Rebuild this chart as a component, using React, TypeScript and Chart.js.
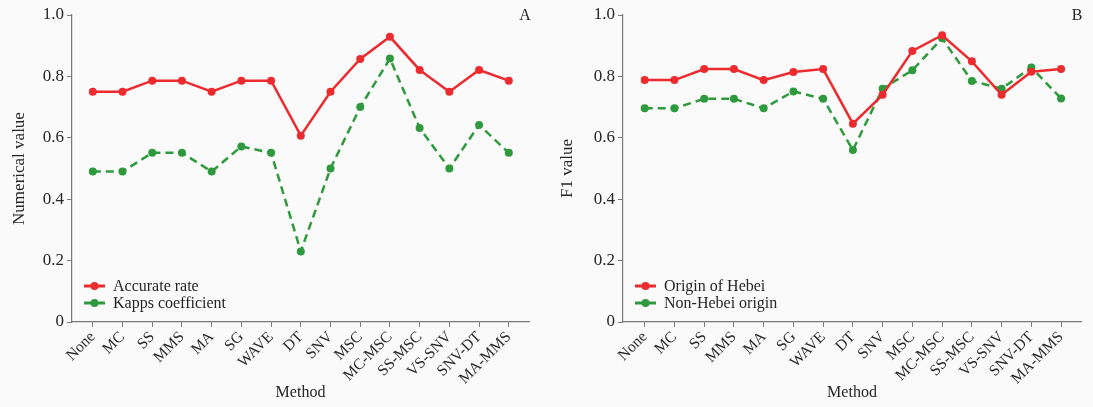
import React, { useEffect, useRef } from 'react';
import { Chart, registerables } from 'chart.js';

Chart.register(...registerables);

const methods = ['None', 'MC', 'SS', 'MMS', 'MA', 'SG', 'WAVE', 'DT', 'SNV', 'MSC', 'MC-MSC', 'SS-MSC', 'VS-SNV', 'SNV-DT', 'MA-MMS'];
const accurateRate = [0.75, 0.75, 0.786, 0.786, 0.75, 0.786, 0.786, 0.607, 0.75, 0.857, 0.929, 0.821, 0.75, 0.821, 0.786];
const kappaCoefficient = [0.49, 0.49, 0.551, 0.551, 0.49, 0.572, 0.551, 0.23, 0.5, 0.7, 0.858, 0.632, 0.5, 0.642, 0.551];
const hebeiF1 = [0.788, 0.788, 0.824, 0.824, 0.788, 0.814, 0.824, 0.646, 0.74, 0.883, 0.934, 0.849, 0.74, 0.815, 0.824];
const nonHebeiF1 = [0.696, 0.696, 0.727, 0.727, 0.696, 0.751, 0.727, 0.56, 0.76, 0.82, 0.924, 0.785, 0.76, 0.829, 0.728];
const yTickValues = [0, 0.2, 0.4, 0.6, 0.8, 1.0];

const RED = '#ec2b2f';
const GREEN = '#2f9a3d';
const AXIS = '#7a7a7a';
const TEXT = '#262626';
const FONT = "'Liberation Serif', 'Times New Roman', serif";

type Series = { label: string; values: number[]; color: string; dashed: boolean };

type PanelProps = {
  left: number;
  width: number;
  axisWidth: number;
  rightPad: number;
  xMin: number;
  xMax: number;
  yTitle: string;
  yTitlePad: number;
  letter: string;
  series: Series[];
};

function Panel(p: PanelProps) {
  const ref = useRef<HTMLCanvasElement | null>(null);
  useEffect(() => {
    if (!ref.current) return;
    const letterPlugin = {
      id: 'letterLegend',
      afterDraw(chart: any) {
        const ctx = chart.ctx;
        const a = chart.chartArea;
        ctx.save();
        ctx.fillStyle = TEXT;
        ctx.font = `16px ${FONT}`;
        ctx.textAlign = 'center';
        ctx.textBaseline = 'middle';
        ctx.fillText(p.letter, a.right - 4, a.top + 1);
        // legend
        const rows = [-36, -19];
        p.series.forEach((s, i) => {
          const y = a.bottom + rows[i];
          ctx.strokeStyle = s.color;
          ctx.lineWidth = 3;
          ctx.setLineDash([]);
          ctx.beginPath();
          ctx.moveTo(a.left + 12, y);
          ctx.lineTo(a.left + 33, y);
          ctx.stroke();
          ctx.fillStyle = s.color;
          ctx.beginPath();
          ctx.arc(a.left + 22.5, y, 4, 0, Math.PI * 2);
          ctx.fill();
          ctx.fillStyle = TEXT;
          ctx.font = `16px ${FONT}`;
          ctx.textAlign = 'left';
          ctx.textBaseline = 'middle';
          ctx.fillText(s.label, a.left + 41, y + 1);
        });
        ctx.restore();
      },
    };
    const chart = new Chart(ref.current, {
      type: 'line',
      data: {
        datasets: p.series.map((s) => ({
          label: s.label,
          data: s.values.map((v, i) => ({ x: i, y: v })),
          borderColor: s.color,
          backgroundColor: s.color,
          borderWidth: 2.5,
          borderDash: s.dashed ? [8, 5] : [],
          pointRadius: 4,
          pointHoverRadius: 4,
          pointBorderWidth: 0,
          pointBackgroundColor: s.color,
          tension: 0,
        })),
      },
      options: {
        animation: false,
        responsive: false,
        maintainAspectRatio: false,
        layout: { padding: { top: 15, right: p.rightPad, bottom: 0, left: 0 } },
        plugins: {
          legend: { display: false },
          tooltip: { enabled: false },
          title: { display: false },
        },
        scales: {
          x: {
            type: 'linear',
            min: p.xMin,
            max: p.xMax,
            afterBuildTicks: (scale: any) => {
              scale.ticks = methods.map((_, i) => ({ value: i }));
            },
            afterFit: (scale: any) => {
              scale.height = 85;
            },
            grid: { display: true, drawOnChartArea: false, drawTicks: true, tickLength: 5, color: AXIS, lineWidth: 1 },
            border: { display: true, color: AXIS, width: 1.2 },
            ticks: {
              autoSkip: false,
              maxRotation: 45,
              minRotation: 45,
              padding: 1,
              color: TEXT,
              font: { family: FONT, size: 15.5 },
              callback: (v: any) => methods[Math.round(Number(v))] ?? '',
            },
            title: {
              display: true,
              text: 'Method',
              color: TEXT,
              font: { family: FONT, size: 16 },
              padding: { top: 0, bottom: 5 },
            },
          },
          y: {
            type: 'linear',
            min: 0,
            max: 1,
            afterBuildTicks: (scale: any) => {
              scale.ticks = yTickValues.map((v) => ({ value: v }));
            },
            afterFit: (scale: any) => {
              scale.width = p.axisWidth;
            },
            grid: { display: true, drawOnChartArea: false, drawTicks: true, tickLength: 5, color: AXIS, lineWidth: 1 },
            border: { display: true, color: AXIS, width: 1.2 },
            ticks: {
              padding: 3,
              color: TEXT,
              font: { family: FONT, size: 17 },
              callback: (v: any) => (Number(v) === 0 ? '0' : Number(v).toFixed(1)),
            },
            title: {
              display: true,
              text: p.yTitle,
              color: TEXT,
              font: { family: FONT, size: 17 },
              padding: { top: p.yTitlePad, bottom: 0 },
            },
          },
        },
      },
      plugins: [letterPlugin],
    } as any);
    return () => chart.destroy();
  }, []);
  return (
    <canvas
      ref={ref}
      width={p.width}
      height={407}
      style={{ position: 'absolute', left: p.left, top: 0, width: p.width, height: 407, display: 'block' }}
    />
  );
}

export default function App() {
  return (
    <div style={{ position: 'fixed', left: 0, top: 0, width: 1093, height: 407, background: '#fafafa', overflow: 'hidden' }}>
      <Panel
        left={0}
        width={546}
        axisWidth={72}
        rightPad={17}
        xMin={-0.7}
        xMax={14.68}
        yTitle="Numerical value"
        yTitlePad={9}
        letter="A"
        series={[
          { label: 'Accurate rate', values: accurateRate, color: RED, dashed: false },
          { label: 'Kapps coefficient', values: kappaCoefficient, color: GREEN, dashed: true },
        ]}
      />
      <Panel
        left={546}
        width={547}
        axisWidth={77}
        rightPad={12}
        xMin={-0.73}
        xMax={14.67}
        yTitle="F1 value"
        yTitlePad={11}
        letter="B"
        series={[
          { label: 'Origin of Hebei', values: hebeiF1, color: RED, dashed: false },
          { label: 'Non-Hebei origin', values: nonHebeiF1, color: GREEN, dashed: true },
        ]}
      />
    </div>
  );
}
